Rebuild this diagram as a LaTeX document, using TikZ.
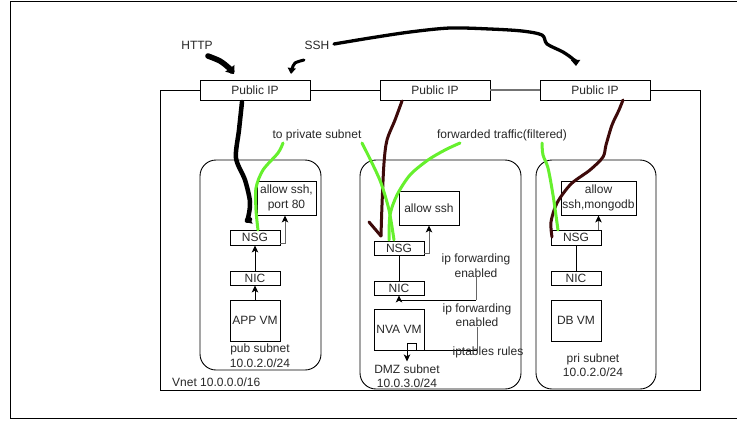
\documentclass[tikz,border=0pt]{standalone}
\usepackage{fontspec}
\setmainfont{Liberation Sans}
\usetikzlibrary{arrows.meta,calc}
\definecolor{lgreen}{RGB}{102,240,45}
\definecolor{maroon}{RGB}{62,10,10}
\definecolor{txt}{RGB}{40,40,40}
\begin{document}
\begin{tikzpicture}[x=1pt,y=-1pt,
  box/.style={draw=black, line width=0.9pt, fill=white, inner sep=0pt,
    font=\fontsize{12}{14.5}\selectfont, text=txt, align=center},
  sub/.style={draw=black, line width=0.9pt, rounded corners=16pt, inner sep=0pt},
  lbl/.style={inner sep=0pt, font=\fontsize{12}{14.5}\selectfont, text=txt, align=center},
  arr/.style={draw=black, line width=0.8pt, -{Stealth[length=7pt,width=6.5pt,inset=1.8pt]}},
  garr/.style={draw=black!60, line width=0.9pt, -{Stealth[length=7pt,width=6.5pt,inset=1.8pt,black]}},
  pen/.style={line cap=round, line join=round},
]
\clip (0,0) rectangle (737,421);
\fill[white] (0,0) rectangle (737,421);
% outer frame
\node[draw=black, line width=1.2pt, minimum width=740pt, minimum height=417pt, inner sep=0pt, anchor=north west] (frame) at (10,1) {};

% vnet
\node[draw=black, line width=0.9pt, minimum width=540pt, minimum height=300pt, inner sep=0pt] (vnet) at (430,240) {};
\node[lbl, anchor=west] (vnetlbl) at (172,382) {Vnet 10.0.0.0/16};

% public IPs
\node[box, minimum width=110pt, minimum height=20pt] (pip1) at (255,90) {Public IP};
\node[box, minimum width=110pt, minimum height=20pt] (pip2) at (435,90) {Public IP};
\node[box, minimum width=110pt, minimum height=20pt] (pip3) at (595,90) {Public IP};
\draw[black!55, line width=1.4pt] (pip2.east) -- (pip3.west);

% subnets
\node[sub, minimum width=121pt, minimum height=210pt] (pubnet) at (260.5,265) {};
\node[sub, minimum width=161pt, minimum height=229pt] (dmznet) at (440.5,274.5) {};
\node[sub, minimum width=120pt, minimum height=229pt] (prinet) at (596,274.5) {};

% pub subnet
\node[box, minimum width=59pt, minimum height=34pt] (allow1) at (286.5,198) {allow ssh,\\port 80};
\node[box, minimum width=50pt, minimum height=15pt] (nsg1) at (255,237.5) {NSG};
\node[box, minimum width=50pt, minimum height=14pt] (nic1) at (255,278) {NIC};
\node[box, minimum width=50pt, minimum height=41pt] (app) at (255,320.5) {APP VM};
\node[lbl] (publbl) at (260,355.5) {pub subnet\\10.0.2.0/24};
\draw[arr] (nic1) -- (nsg1);
\draw[arr] (app) -- (nic1);
\draw[garr] ([yshift=-5.5pt]nsg1.east) -| ([xshift=-1.5pt]allow1.south);

% DMZ subnet
\node[box, minimum width=60pt, minimum height=34pt] (allow2) at (429,208) {allow ssh};
\node[box, minimum width=50pt, minimum height=14pt] (nsg2) at (399,248) {NSG};
\node[box, minimum width=50pt, minimum height=14pt] (nic2) at (399,288) {NIC};
\node[box, minimum width=50pt, minimum height=41pt] (nva) at (399,329.5) {NVA VM};
\node[lbl] (dmzlbl) at (407,376) {DMZ subnet\\10.0.3.0/24};
\draw[black, line width=0.9pt] (nsg2) -- (nic2);
\draw[garr] ([yshift=-5pt]nsg2.east) -| (allow2.south);
\node[lbl] (ipf1) at (476,265.5) {ip forwarding\\enabled};
\node[lbl] (ipf2) at (477,315) {ip forwarding\\enabled};
\draw[black!60, line width=0.9pt] (ipf1.south) -- ($(ipf1.south |- nic2.south)+(0,5)$);
\draw[arr] ($(ipf1.south |- nic2.south)+(0,5)$) -- ($(nic2.south)+(0,5)$) -- (nic2.south);
\draw[black!60, line width=0.9pt] (ipf2.south) -- (ipf2.south |- nva.south);
\draw[arr] (ipf2.south |- nva.south) -- ($(nva.south)+(17,0)$) -- ($(nva.south)+(17,-7)$)
   -- ($(nva.south)+(8,-7)$) -- ($(nva.south)+(8,11)$);
\node[lbl] (iptbl) at (488,352) {iptables rules};

% pri subnet
\node[box, minimum width=75pt, minimum height=34pt] (allow3) at (598.5,198) {allow\\ssh,mongodb};
\node[box, minimum width=50pt, minimum height=15pt] (nsg3) at (576,237.5) {NSG};
\node[box, minimum width=50pt, minimum height=14pt] (nic3) at (576,278) {NIC};
\node[box, minimum width=50pt, minimum height=41pt] (db) at (576,320.5) {DB VM};
\node[lbl] (prilbl) at (593,365) {pri subnet\\10.0.2.0/24};
\draw[black, line width=0.9pt] (nsg3) -- (nic3);
\draw[garr] (nsg3.north -| allow3.south) -- (allow3.south);

% labels
\node[lbl] (http) at (197,45) {HTTP};
\node[lbl] (ssh) at (317,45) {SSH};
\node[lbl] (topriv) at (317,135) {to private subnet};
\node[lbl] (fwd) at (502,135) {forwarded traffic(filtered)};

% freehand strokes
\draw[pen, line width=5.5pt, -{Triangle[length=7pt,width=11pt]}]
  plot[smooth] coordinates {(208,56) (220,61) (229,68) (234,74)};
\draw[pen, line width=3pt, -{Triangle[length=6pt,width=8pt]}]
  plot[smooth] coordinates {(304,60) (295,63) (292,69) (291,74)};
\draw[pen, line width=3.3pt, -{Triangle[length=6pt,width=9pt]}]
  plot[smooth] coordinates {(334,44) (370,38) (410,32) (450,28) (490,29) (522,31) (542,35) (547,44) (563,52) (574,60) (576,66)};
\draw[pen, line width=4.5pt, -{Triangle[length=6pt,width=10pt]}]
  plot[smooth] coordinates {(242,102) (239,130) (236,158) (245,180) (250,202) (248,218) (245,222)};
\draw[pen, line width=3pt, maroon]
  plot[smooth] coordinates {(402,101) (395,120) (387,140) (384,163) (382,205) (381,236)};
\draw[pen, line width=3pt, maroon] (381,236) -- (369,222);
\draw[pen, line width=3pt, maroon]
  plot[smooth] coordinates {(623,100) (619,110) (612,125) (606,145) (603,157) (590,170) (571,184) (557,203) (551,222) (552,237)};
\draw[pen, line width=3pt, lgreen]
  plot[smooth] coordinates {(283,143) (278,153) (263,170) (256,188) (256,210) (258,230)};
\draw[pen, line width=3pt, lgreen]
  plot[smooth] coordinates {(362,143) (372,163) (381,183) (389,210) (394,240)};
\draw[pen, line width=3pt, lgreen]
  plot[smooth] coordinates {(460,143) (445,150) (428,160) (410,175) (397,195) (390,215) (389,240)};
\draw[pen, line width=3pt, lgreen]
  plot[smooth] coordinates {(542,143) (543,155) (548,168) (553,195) (558,230)};
\end{tikzpicture}
\end{document}
